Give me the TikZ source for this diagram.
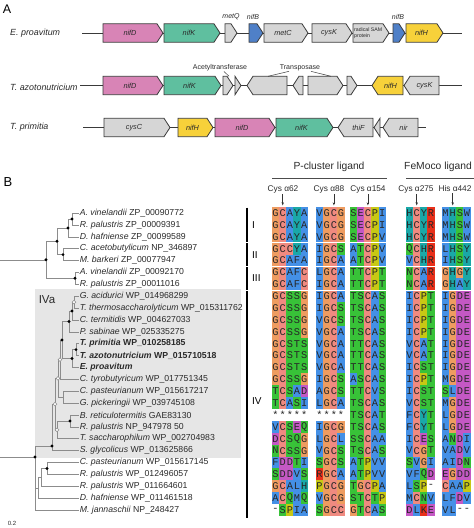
\documentclass[tikz,border=0pt]{standalone}
\usepackage{fontspec}
\setmainfont{Liberation Sans}
\newfontfamily\monofont{Liberation Mono}
\usetikzlibrary{arrows.meta}

\definecolor{gD}{HTML}{D884B6}
\definecolor{gK}{HTML}{5FBF9F}
\definecolor{gB}{HTML}{4F80C8}
\definecolor{gH}{HTML}{F7D13A}
\definecolor{gG}{HTML}{D6D6D6}
\definecolor{genebd}{HTML}{3A3A3A}
\definecolor{treeline}{HTML}{8C8C8C}
\definecolor{boxgray}{HTML}{E6E6E6}
\definecolor{txt}{HTML}{2A2A2A}
% alignment colours (ClustalX-like)
\definecolor{cBlue}{HTML}{4490E6}
\definecolor{cPink}{HTML}{F08A80}
\definecolor{cOrange}{HTML}{EE9C60}
\definecolor{cGreen}{HTML}{38C238}
\definecolor{cMag}{HTML}{C458C4}
\definecolor{cYel}{HTML}{C8C814}
\definecolor{cCyan}{HTML}{1AA8A8}
\definecolor{cRed}{HTML}{E8301A}
\colorlet{aacolA}{cBlue}\colorlet{aacolI}{cBlue}\colorlet{aacolL}{cBlue}
\colorlet{aacolM}{cBlue}\colorlet{aacolF}{cBlue}\colorlet{aacolW}{cBlue}
\colorlet{aacolV}{cBlue}\colorlet{aacolC}{cPink}\colorlet{aacolG}{cOrange}
\colorlet{aacolP}{cYel}\colorlet{aacolS}{cGreen}\colorlet{aacolT}{cGreen}
\colorlet{aacolN}{cGreen}\colorlet{aacolQ}{cGreen}\colorlet{aacolD}{cMag}
\colorlet{aacolE}{cMag}\colorlet{aacolK}{cRed}\colorlet{aacolR}{cRed}
\colorlet{aacolH}{cCyan}\colorlet{aacolY}{cCyan}
\colorlet{aacolg}{white}\colorlet{aacols}{white}

\tikzset{
  genebox/.style={draw=genebd, line width=0.8pt, line join=miter},
  genelab/.style={inner sep=0pt, font=\itshape\fontsize{7.3}{8}\selectfont, text=txt},
  chrom/.style={draw=genebd, line width=0.9pt},
  rowlab/.style={anchor=west, inner sep=0pt, font=\itshape\fontsize{8.9}{9}\selectfont, text=txt},
  toplab/.style={inner sep=0.5pt, font=\itshape\fontsize{7}{8}\selectfont, text=txt},
  annot/.style={inner sep=0.5pt, font=\fontsize{7}{8}\selectfont, text=txt},
  callout/.style={draw=genebd, line width=0.5pt},
  panlab/.style={inner sep=0pt, font=\fontsize{12.5}{13}\selectfont},
  tl/.style={draw=treeline, line width=0.6pt},
  leaf/.style={anchor=west, inner sep=0.6pt, font=\fontsize{8.7}{9}\selectfont, text=txt},
  fdot/.style={fill=black},
  odot/.style={draw=treeline, fill=white, line width=0.5pt},
  cell/.style={rectangle, inner sep=0pt, minimum width=7.25pt, minimum height=11.95pt,
    font=\monofont\fontsize{10.3}{10.3}\selectfont, text=black!85},
  grplab/.style={anchor=west, inner sep=0pt, font=\fontsize{10}{10}\selectfont},
  grpbar/.style={draw=black, line width=1.3pt},
  hdr/.style={inner sep=0pt, font=\fontsize{10.3}{11}\selectfont, text=txt},
  hdrline/.style={draw=black!70, line width=0.8pt},
  sublab/.style={inner sep=0.8pt, font=\fontsize{8.3}{9}\selectfont, text=txt},
  subarr/.style={draw=black!80, line width=0.5pt, -{Stealth[length=3pt,width=2.4pt]}}
}

\newcommand{\geneR}[6]{%
  \pgfmathsetmacro{\gtip}{max(#1,#2-6)}%
  \draw[genebox,fill=#4] (#1,#3-9.2) -- (\gtip,#3-9.2) -- (#2,#3) -- (\gtip,#3+9.2) -- (#1,#3+9.2) -- cycle;
  \node[genelab] (#6) at ({(#1+\gtip)/2},#3) {#5};}
\newcommand{\geneL}[6]{%
  \pgfmathsetmacro{\gtip}{min(#2,#1+6)}%
  \draw[genebox,fill=#4] (#2,#3-9.2) -- (\gtip,#3-9.2) -- (#1,#3) -- (\gtip,#3+9.2) -- (#2,#3+9.2) -- cycle;
  \node[genelab] (#6) at ({(#2+\gtip)/2},#3) {#5};}

\def\gapletter{g}\def\starletter{s}
\newcommand{\alnblock}[3]{%
  \foreach \ch [count=\k] in {#3} {%
    \edef\tmpch{\ch}%
    \ifx\tmpch\gapletter\def\aaglyph{-}\else\ifx\tmpch\starletter\def\aaglyph{*}\else\let\aaglyph\tmpch\fi\fi
    \node[cell, fill=aacol\tmpch] (c#1-#2-\k) at ({#2+7.15*(\k-0.5)},{213+11.88*#1}) {\aaglyph};
  }}
\newcommand{\alnrow}[6]{%
  \alnblock{#1}{272}{#2}\alnblock{#1}{316}{#3}\alnblock{#1}{350}{#4}%
  \alnblock{#1}{406}{#5}\alnblock{#1}{442}{#6}}

\begin{document}
\begin{tikzpicture}[x=1pt,y=-1pt]
\useasboundingbox (0,0) rectangle (474,528);

%================ Panel A ================
\node[panlab] (pA) at (7,9) {A};

% row 1 : E. proavitum
\node[rowlab] (sp1) at (10,33) {E. proavitum};
\coordinate (r1s) at (82,33); \coordinate (r1e) at (462,33);
\draw[chrom] (r1s) -- (r1e);
\geneR{103}{163}{33}{gD}{nifD}{g1a}
\geneR{164}{220}{33}{gK}{nifK}{g1b}
\geneR{225}{237}{33}{gG}{}{g1c}
\geneR{249}{263}{33}{gB}{}{g1d}
\geneR{264}{308}{33}{gG}{metC}{g1e}
\geneR{312}{352}{33}{gG}{cysK}{g1f}
\geneR{353}{389}{33}{gG}{}{g1g}
\geneR{393}{405}{33}{gB}{}{g1h}
\geneR{406}{443}{33}{gH}{nifH}{g1i}
\node[anchor=west, inner sep=0pt, align=left, font=\fontsize{5.2}{5.8}\selectfont, text=txt] (rsam) at (354,33) {radical SAM\\protein};
\node[toplab] (metQ) at (231,16.5) {metQ};
\node[toplab] (nifB1) at (253,16.5) {nifB};
\node[toplab] (nifB2) at (398,16.5) {nifB};

% row 2 : T. azotonutricium
\node[rowlab] (sp2) at (10,87) {T. azotonutricium};
\coordinate (r2s) at (80,85.5); \coordinate (r2e) at (462,85.5);
\draw[chrom] (r2s) -- (r2e);
\geneR{103}{163}{85.5}{gD}{nifD}{g2a}
\geneR{164}{221}{85.5}{gK}{nifK}{g2b}
\geneR{223}{233}{85.5}{gG}{}{g2c}
\geneR{235}{241}{85.5}{gG}{}{g2d}
\geneL{247}{287}{85.5}{gG}{}{g2e}
\geneL{293}{303}{85.5}{gG}{}{g2f}
\geneR{308}{343}{85.5}{gG}{}{g2g}
\geneR{347}{357}{85.5}{gG}{}{g2h}
\geneL{372}{403}{85.5}{gH}{nifH}{g2i}
\geneL{404}{439}{85.5}{gG}{cysK}{g2j}
\node[annot] (acet) at (220,67.5) {Acetyltransferase};
\node[annot] (trans) at (300,67.5) {Transposase};
\coordinate (acetpt) at (229,76.3);
\coordinate (tp1) at (268,76.3);
\coordinate (tp2) at (331,76.3);
\draw[callout] ([xshift=4pt]acet.south) -- (acetpt);
\draw[callout] ([xshift=-11pt]trans.south) -- (tp1);
\draw[callout] ([xshift=11pt]trans.south) -- (tp2);

% row 3 : T. primitia
\node[rowlab] (sp3) at (10,127.5) {T. primitia};
\coordinate (r3s) at (83,127.5); \coordinate (r3e) at (426,127.5);
\draw[chrom] (r3s) -- (r3e);
\geneR{104}{170}{127.5}{gG}{cysC}{g3a}
\geneR{178}{213}{127.5}{gH}{nifH}{g3b}
\geneR{215}{275}{127.5}{gD}{nifD}{g3c}
\geneR{276}{333}{127.5}{gK}{nifK}{g3d}
\geneL{338}{373}{127.5}{gG}{thiF}{g3e}
\geneL{374}{380}{127.5}{gG}{}{g3f}
\geneL{383}{418}{127.5}{gG}{nir}{g3g}

%================ Panel B ================
\node[panlab, font=\fontsize{13}{13}\selectfont] (pB) at (8,182) {B};

% IVa shaded box
\fill[boxgray] (35,289) rectangle (241,458);
\node[inner sep=0pt, font=\fontsize{11.5}{12}\selectfont, text=txt] (IVa) at (47,300) {IVa};

% leaves
\node[leaf] (t0) at (79,213.0) {\textit{A. vinelandii} ZP\_00090772};
\node[leaf] (t1) at (79,224.9) {\textit{R. palustris} ZP\_00009391};
\node[leaf] (t2) at (79,236.8) {\textit{D. hafniense} ZP\_00099589};
\node[leaf] (t3) at (79,248.6) {\textit{C. acetobutylicum} NP\_346897};
\node[leaf] (t4) at (79,260.5) {\textit{M. barkeri} ZP\_00077947};
\node[leaf] (t5) at (79,272.4) {\textit{A. vinelandii} ZP\_00092170};
\node[leaf] (t6) at (79,284.3) {\textit{R. palustris} ZP\_00011016};
\node[leaf] (t7) at (79,296.2) {\textit{G. acidurici} WP\_014968299};
\node[leaf] (t8) at (79,308.0) {\textit{T. thermosaccharolyticum} WP\_015311762};
\node[leaf] (t9) at (79,319.9) {\textit{C. termitidis} WP\_004627033};
\node[leaf] (t10) at (79,331.8) {\textit{P. sabinae} WP\_025335275};
\node[leaf] (t11) at (79,343.7) {\bfseries\textit{T. primitia} WP\_010258185};
\node[leaf] (t12) at (79,355.6) {\bfseries\textit{T. azotonutricium} WP\_015710518};
\node[leaf] (t13) at (79,367.4) {\bfseries\textit{E. proavitum}};
\node[leaf] (t14) at (79,379.3) {\textit{C. tyrobutyricum} WP\_017751345};
\node[leaf] (t15) at (79,391.2) {\textit{C. pasteurianum} WP\_015617217};
\node[leaf] (t16) at (79,403.1) {\textit{G. pickeringii} WP\_039745108};
\node[leaf] (t17) at (79,415.0) {\textit{B. reticulotermitis} GAE83130};
\node[leaf] (t18) at (79,426.8) {\textit{R. palustris} NP\_947978 50};
\node[leaf] (t19) at (79,438.7) {\textit{T. saccharophilum} WP\_002704983};
\node[leaf] (t20) at (79,450.6) {\textit{S. glycolicus} WP\_013625866};
\node[leaf] (t21) at (79,462.5) {\textit{C. pasteurianum} WP\_015617145};
\node[leaf] (t22) at (79,474.4) {\textit{R. palustris} WP\_012496057};
\node[leaf] (t23) at (79,486.2) {\textit{R. palustris} WP\_011664601};
\node[leaf] (t24) at (79,498.1) {\textit{D. hafniense} WP\_011461518};
\node[leaf] (t25) at (79,510.0) {\textit{M. jannaschii} NP\_248427};

% internal nodes: top clade
\coordinate (rootT) at (0,259.8);
\coordinate (nT) at (46,259.8);
\coordinate (nA) at (57,241.2);
\coordinate (nI) at (68,227.9);
\coordinate (n1) at (72,219.0);
\coordinate (nII) at (63,254.6);
\coordinate (nIII) at (75,278.3);
% bottom clade
\coordinate (rootB) at (0,457);
\coordinate (nB) at (35,457);
\coordinate (na) at (74,302.1);
\coordinate (nb) at (72,311.0);
\coordinate (nc) at (69,321.4);
\coordinate (nd) at (76,349.6);
\coordinate (ne) at (72,358.5);
\coordinate (nf) at (62,340.0);
\coordinate (ng) at (60,359.6);
\coordinate (nh) at (63,397.1);
\coordinate (ni) at (58,378.4);
\coordinate (nj) at (70,420.9);
\coordinate (nk) at (57,429.8);
\coordinate (nl) at (55,404.1);
\coordinate (nm) at (52,446.0);
\coordinate (nn) at (47,468.5);
\coordinate (no) at (41,477.5);
\coordinate (np) at (38,488.0);

% branches
\draw[tl] (rootT) -- (nT);
\draw[tl] (nT) |- (nA); \draw[tl] (nT) |- (nIII);
\draw[tl] (nA) |- (nI); \draw[tl] (nA) |- (nII);
\draw[tl] (nI) |- (n1); \draw[tl] (nI) |- (t2.west);
\draw[tl] (n1) |- (t0.west); \draw[tl] (n1) |- (t1.west);
\draw[tl] (nII) |- (t3.west); \draw[tl] (nII) |- (t4.west);
\draw[tl] (nIII) |- (t5.west); \draw[tl] (nIII) |- (t6.west);

\draw[tl] (rootB) -- (nB);
\draw[tl] (nB) |- (nm); \draw[tl] (nB) |- (np); \draw[tl] (nB) |- (t25.west);
\draw[tl] (nm) |- (nl); \draw[tl] (nm) |- (t20.west);
\draw[tl] (nl) |- (ni); \draw[tl] (nl) |- (nk);
\draw[tl] (nk) |- (nj); \draw[tl] (nk) |- (t19.west);
\draw[tl] (nj) |- (t17.west); \draw[tl] (nj) |- (t18.west);
\draw[tl] (ni) |- (ng); \draw[tl] (ni) |- (nh);
\draw[tl] (nh) |- (t15.west); \draw[tl] (nh) |- (t16.west);
\draw[tl] (ng) |- (nf); \draw[tl] (ng) |- (t14.west);
\draw[tl] (nf) |- (nc); \draw[tl] (nf) |- (ne);
\draw[tl] (ne) |- (nd); \draw[tl] (ne) |- (t13.west);
\draw[tl] (nd) |- (t11.west); \draw[tl] (nd) |- (t12.west);
\draw[tl] (nc) |- (nb); \draw[tl] (nc) |- (t10.west);
\draw[tl] (nb) |- (na); \draw[tl] (nb) |- (t9.west);
\draw[tl] (na) |- (t7.west); \draw[tl] (na) |- (t8.west);
\draw[tl] (np) |- (no); \draw[tl] (np) |- (t24.west);
\draw[tl] (no) |- (nn); \draw[tl] (no) |- (t23.west);
\draw[tl] (nn) |- (t21.west); \draw[tl] (nn) |- (t22.west);

% node markers
\foreach \p in {nT,nA,nI,n1,nII,nIII,nb,nc,nd,ne,nf,nj,nm,nB,nn}
  \fill[fdot] (\p) circle (1.6);
\foreach \p in {na,ng,ni,nk,nl}
  \draw[odot] (\p) circle (1.9);

\node[inner sep=0pt, font=\fontsize{6}{6}\selectfont, text=txt] (scale) at (12,523) {0.2};

%================ Alignment ================
\alnrow{0}{G,C,A,Y,A}{V,G,C,G}{S,E,C,P,I}{H,C,Y,R}{M,H,S,W}
\alnrow{1}{G,C,A,Y,A}{V,G,C,G}{S,E,C,P,I}{H,C,Y,R}{M,H,S,W}
\alnrow{2}{G,C,A,Y,A}{V,G,C,G}{S,E,C,P,V}{H,C,Y,R}{M,H,S,W}
\alnrow{3}{G,C,C,Y,A}{I,G,C,S}{A,T,C,P,V}{Q,C,H,R}{L,H,S,Y}
\alnrow{4}{G,C,A,F,A}{I,G,C,A}{A,T,C,P,V}{V,C,H,R}{I,H,S,Y}
\alnrow{5}{G,C,A,F,C}{L,G,C,A}{T,T,C,P,T}{N,C,A,R}{G,H,G,Y}
\alnrow{6}{G,C,A,F,C}{I,G,C,A}{T,T,C,P,T}{N,C,A,R}{G,H,A,Y}
\alnrow{7}{G,C,S,S,G}{I,G,C,A}{T,S,C,A,S}{I,C,P,T}{I,G,D,E}
\alnrow{8}{G,C,S,S,G}{I,G,C,S}{T,S,C,A,S}{I,C,P,T}{I,G,D,E}
\alnrow{9}{G,C,S,S,G}{V,G,C,S}{T,S,C,A,S}{I,C,P,T}{I,G,D,E}
\alnrow{10}{G,C,S,S,G}{V,G,C,A}{T,S,C,A,S}{I,C,P,T}{I,G,D,E}
\alnrow{11}{G,C,S,T,S}{V,G,C,A}{T,T,C,A,S}{V,C,A,T}{I,G,D,E}
\alnrow{12}{G,C,S,T,S}{V,G,C,A}{T,T,C,A,S}{V,C,A,T}{I,G,D,E}
\alnrow{13}{G,C,S,T,S}{V,G,C,A}{T,T,C,A,S}{I,C,S,T}{I,G,D,E}
\alnrow{14}{G,C,S,S,G}{I,G,C,S}{A,S,C,A,S}{I,C,P,T}{M,G,D,E}
\alnrow{15}{T,C,S,A,D}{A,G,C,S}{T,T,C,V,S}{I,C,S,T}{S,L,D,E}
\alnrow{16}{T,C,A,S,I}{L,G,C,A}{T,S,C,A,S}{V,C,S,T}{M,G,D,E}
\alnrow{17}{s,s,s,s,s}{s,s,s,s}{T,S,C,A,T}{F,C,Y,T}{L,G,D,E}
\alnrow{18}{V,C,S,E,Q}{I,G,C,G}{T,S,C,A,S}{F,C,Y,T}{L,G,D,E}
\alnrow{19}{D,C,S,Q,G}{L,G,C,L}{S,S,C,A,A}{I,C,E,S}{A,N,D,I}
\alnrow{20}{N,C,S,S,G}{V,G,C,S}{T,S,C,A,S}{V,C,G,T}{V,A,D,V}
\alnrow{21}{F,D,D,T,I}{S,G,C,S}{A,T,P,V,V}{S,V,G,I}{A,I,D,N}
\alnrow{22}{S,D,D,V,S}{R,G,C,A}{A,T,P,V,V}{V,F,Q,D}{E,G,D,D}
\alnrow{23}{G,C,A,L,H}{P,G,C,G}{T,G,C,P,A}{L,S,P,g}{C,A,A,P}
\alnrow{24}{A,C,Q,M,Q}{V,G,C,G}{S,T,C,T,P}{M,C,N,V}{L,F,D,V}
\alnrow{25}{g,S,P,I,A}{S,G,C,C}{G,T,C,A,S}{D,L,K,E}{V,L,g,g}

% thin white separators between groups
\foreach \yy in {242.7,266.5,290.3}
  \draw[white, line width=0.9pt] (270,\yy) -- (472,\yy);

% group bars and labels
\coordinate (gIa) at (247,207.5); \coordinate (gIb) at (247,242.2);
\coordinate (gIIa) at (247,243.4); \coordinate (gIIb) at (247,266.0);
\coordinate (gIIIa) at (247,267.2); \coordinate (gIIIb) at (247,289.8);
\coordinate (gIVa) at (247,291.0); \coordinate (gIVb) at (247,518);
\draw[grpbar] (gIa) -- (gIb);
\draw[grpbar] (gIIa) -- (gIIb);
\draw[grpbar] (gIIIa) -- (gIIIb);
\draw[grpbar] (gIVa) -- (gIVb);
\node[grplab] (lI) at (252,225) {I};
\node[grplab] (lII) at (252,254.6) {II};
\node[grplab] (lIII) at (252,278.5) {III};
\node[grplab] (lIV) at (252,401) {IV};

% headers
\node[hdr] (hP) at (329,167) {P-cluster ligand};
\node[hdr] (hF) at (438,167) {FeMoco ligand};
\coordinate (hPa) at (272,178); \coordinate (hPb) at (387,178);
\coordinate (hFa) at (406,178); \coordinate (hFb) at (474,178);
\draw[hdrline] (hPa) -- (hPb);
\draw[hdrline] (hFa) -- (hFb);

\node[sublab] (s1) at (283,189) {Cys α62};
\node[sublab] (s2) at (329,189) {Cys α88};
\node[sublab] (s3) at (368,189) {Cys α154};
\node[sublab] (s4) at (416,189) {Cys α275};
\node[sublab] (s5) at (455,189) {His α442};
\draw[subarr] (c0-272-2.north |- s1.south) -- ([yshift=1.5pt]c0-272-2.north);
\draw[subarr] (c0-316-3.north |- s2.south) -- ([yshift=1.5pt]c0-316-3.north);
\draw[subarr] (c0-350-3.north |- s3.south) -- ([yshift=1.5pt]c0-350-3.north);
\draw[subarr] (c0-406-2.north |- s4.south) -- ([yshift=1.5pt]c0-406-2.north);
\draw[subarr] (c0-442-2.north |- s5.south) -- ([yshift=1.5pt]c0-442-2.north);

\end{tikzpicture}
\end{document}
